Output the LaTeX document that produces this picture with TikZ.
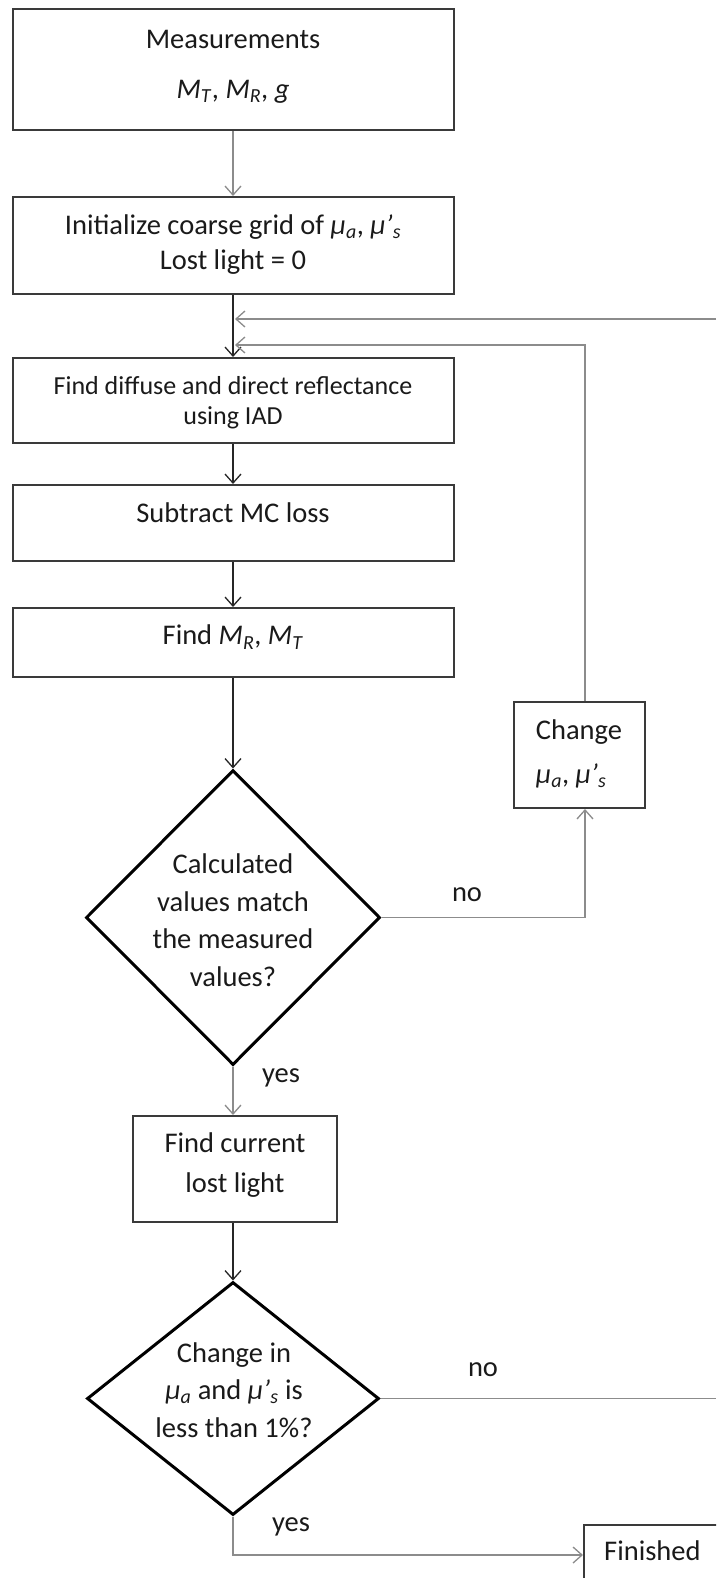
\documentclass[tikz,border=0pt]{standalone}
\usepackage{fontspec}
\setmainfont{Carlito}
\usetikzlibrary{shapes.geometric,arrows.meta}
\definecolor{boxc}{HTML}{3A3A3A}
\definecolor{linec}{HTML}{8C8C8C}
\definecolor{txtc}{HTML}{1A1A1A}
\newcommand\mmT{\textit{M}\textsubscript{\textit{T}}}
\newcommand\mmR{\textit{M}\textsubscript{\textit{R}}}
\newcommand\mua{\textit{μ}\textsubscript{\textit{a}}}
\newcommand\mus{\textit{μ’}\textsubscript{\textit{s}}}
\tikzset{
  box/.style={draw=boxc, line width=2pt, rectangle, inner sep=0pt, fill=white},
  dia/.style={draw=black, line width=3pt, diamond, inner sep=0pt},
  txt/.style={text=txtc, font=\fontsize{28.5}{37.5}\selectfont, inner sep=0pt, align=center},
  smalltxt/.style={text=txtc, font=\fontsize{26}{32}\selectfont, inner sep=0pt, align=center},
  tip/.style={-{Straight Barb[length=9pt,width=16pt,line width=1.3pt]}},
  gline/.style={draw=linec, line width=1.6pt},
  bline/.style={draw=black!85, line width=1.6pt}
}
\begin{document}
\begin{tikzpicture}[x=1pt,y=-1pt]
\clip (0,0) rectangle (716,1578);
\fill[white] (0,0) rectangle (716,1578);

% boxes
\node[box, minimum width=441pt, minimum height=121pt] (meas) at (233.5,69.5) {};
\node[box, minimum width=441pt, minimum height=97pt] (init) at (233.5,245.5) {};
\node[box, minimum width=441pt, minimum height=85pt] (diff) at (233.5,400.5) {};
\node[box, minimum width=441pt, minimum height=76pt] (sub) at (233.5,523) {};
\node[box, minimum width=441pt, minimum height=69pt] (fmr) at (233.5,642.5) {};
\node[box, minimum width=131pt, minimum height=106pt] (chg) at (579.5,755) {};
\node[box, minimum width=204pt, minimum height=106pt] (cur) at (235,1169) {};
\node[box, minimum width=154pt, minimum height=60pt] (fin) at (661,1555) {};

% diamonds
\node[dia, minimum width=294pt, minimum height=295pt] (d1) at (233,917.5) {};
\node[dia, minimum width=292pt, minimum height=233pt] (d2) at (233,1398.5) {};

% texts
\node[txt] (t1) at (233,39) {Measurements};
\node[txt] (t2) at (233,92) {\mmT, \mmR, \textit{g}};
\node[txt] (t3) at (233,227) {Initialize coarse grid of \mua, \mus};
\node[txt] (t4) at (233,262) {Lost light = 0};
\node[smalltxt] (t5) at (233,386) {Find diffuse and direct reflectance};
\node[smalltxt] (t6) at (233,418) {using IAD};
\node[txt] (t7) at (233,513) {Subtract MC loss};
\node[txt] (t8) at (233,637) {Find \mmR, \mmT};
\node[txt] (t9) at (233,920) {Calculated\\values match\\the measured\\values?};
\node[txt, align=left, font=\fontsize{28.5}{44}\selectfont] (t10) at (579,754) {Change\\\mua, \mus};
\node[txt, font=\fontsize{28.5}{40}\selectfont] (t11) at (235,1165) {Find current\\lost light};
\node[txt] (t12) at (234,1390) {Change in\\\mua{} and \mus{} is\\less than 1\%?};
\node[txt, anchor=west] (t13) at (604,1551) {Finished};
\node[txt] (no1) at (467,895) {no};
\node[txt] (no2) at (483,1370) {no};
\node[txt] (yes1) at (281,1078) {yes};
\node[txt] (yes2) at (291,1527) {yes};

% helper coordinates
\coordinate (r1) at (716,319);
\coordinate (j1) at (233,319);
\coordinate (j2) at (233,345);
\coordinate (r2) at (716,1398.5);

% connectors
\draw[gline, tip] (meas.south -| 233,0) -- (init.north -| 233,0);
\draw[bline, tip] (init.south -| 233,0) -- (diff.north -| 233,0);
\draw[bline, tip] (diff.south -| 233,0) -- (sub.north -| 233,0);
\draw[bline, tip] (sub.south -| 233,0) -- (fmr.north -| 233,0);
\draw[bline, tip] (fmr.south -| 233,0) -- (d1.north);
\draw[gline, tip, shorten >=2pt] (r1) -- (j1);
\draw[gline, tip, shorten >=2pt] (chg.north -| 585,0) |- (j2);
\draw[gline, tip] (d1.east) -| (chg.south -| 585,0);
\draw[gline, tip] (d1.south) -- (cur.north -| 233,0);
\draw[bline, tip] (cur.south -| 233,0) -- (d2.north);
\draw[gline] (d2.east) -- (r2);
\draw[gline, tip] (d2.south) |- (fin.west);
\end{tikzpicture}
\end{document}
